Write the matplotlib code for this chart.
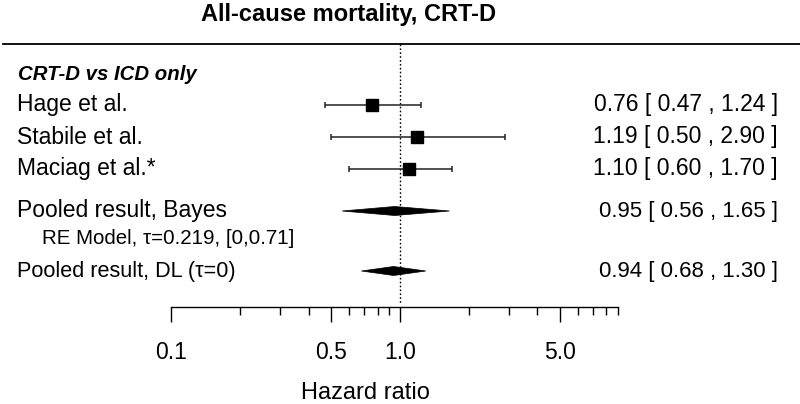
import matplotlib
matplotlib.use("Agg")
import matplotlib.pyplot as plt
import matplotlib.transforms as mtransforms
from matplotlib.lines import Line2D
from matplotlib.patches import Polygon
import numpy as np

plt.rcParams['font.family'] = ['Liberation Sans', 'DejaVu Sans']

# ---- data ----
study_labels = ["Hage et al.", "Stabile et al.", "Maciag et al.*"]
study_est = [0.76, 1.19, 1.10]
study_lo = [0.47, 0.50, 0.60]
study_hi = [1.24, 2.90, 1.70]

pooled_labels = ["Pooled result, Bayes", "Pooled result, DL (\u03c4=0)"]
pooled_est = [0.95, 0.94]
pooled_lo = [0.56, 0.68]
pooled_hi = [1.65, 1.30]

group_label = "CRT-D vs ICD only"
re_note = "RE Model, \u03c4=0.219, [0,0.71]"
title = "All-cause mortality, CRT-D"
xlabel = "Hazard ratio"
major_ticks = [0.1, 0.5, 1.0, 5.0]
major_labels = ["0.1", "0.5", "1.0", "5.0"]
minor_ticks = [0.2, 0.3, 0.4, 0.6, 0.7, 0.8, 0.9, 2, 3, 4, 6, 7, 8, 9]
x_limits = (0.1, 9)

# ---- layout (pixel rows) ----
W, H = 800, 404
study_rows = [105, 137, 169]
pooled_rows = [211, 271]
header_row = 75
note_row = 239
pooled_label_sizes = [16.5, 15.6]

fig = plt.figure(figsize=(W / 100, H / 100), dpi=100)

def fx(px):
    return px / W

def fy(py):
    return 1 - py / H

ax_left, ax_right, ax_top, ax_bottom = 171, 618, 44, 307
ax = fig.add_axes([fx(ax_left), fy(ax_bottom), fx(ax_right - ax_left), (ax_bottom - ax_top) / H])
ax.set_xscale('log')
ax.set_xlim(*x_limits)
ax.set_ylim(ax_bottom, ax_top)
ax.patch.set_alpha(0)
for s in ['left', 'right', 'top']:
    ax.spines[s].set_visible(False)
ax.spines['bottom'].set_linewidth(1.0)
ax.set_yticks([])
ax.set_xticks(major_ticks)
ax.set_xticklabels(major_labels, fontsize=16.5)
ax.set_xticks(minor_ticks, minor=True)
ax.xaxis.set_minor_formatter(matplotlib.ticker.NullFormatter())
ax.tick_params(axis='x', which='major', length=10.8, width=1.0, pad=14, direction='out')
ax.tick_params(axis='x', which='minor', length=5.8, width=1.0, direction='out')

# reference line
ax.plot([1, 1], [ax_top, 303], linestyle=(0, (1.2, 1.6)), color='black', lw=1.0)

# studies
xerr = [np.array(study_est) - np.array(study_lo), np.array(study_hi) - np.array(study_est)]
ax.errorbar(study_est, study_rows, xerr=xerr, fmt='none', ecolor='#222222',
            elinewidth=1.1, capsize=2.0, capthick=1.1)
ax.plot(study_est, study_rows, 's', color='black', markersize=8)

# pooled diamonds
dh = 4.5
for est, lo, hi, r in zip(pooled_est, pooled_lo, pooled_hi, pooled_rows):
    poly = Polygon([[lo, r], [est, r - dh], [hi, r], [est, r + dh]], closed=True,
                   facecolor='black', edgecolor='black', lw=0.5)
    ax.add_patch(poly)

# texts
trans = mtransforms.blended_transform_factory(fig.transFigure, ax.transData)
ax.text(fx(18), header_row, group_label, transform=trans, fontsize=14.7,
        fontweight='bold', fontstyle='italic', va='center', ha='left')
for lab, r in zip(study_labels, study_rows):
    ax.text(fx(17), r, lab, transform=trans, fontsize=16.5, va='center', ha='left')
for lab, r, fs in zip(pooled_labels, pooled_rows, pooled_label_sizes):
    ax.text(fx(17), r, lab, transform=trans, fontsize=fs, va='center', ha='left')
ax.text(fx(42), note_row, re_note, transform=trans, fontsize=14.8, va='center', ha='left')

for e, lo, hi, r in zip(study_est, study_lo, study_hi, study_rows):
    ax.text(fx(778), r, f"{e:.2f} [ {lo:.2f} , {hi:.2f} ]", transform=trans,
            fontsize=16.5, va='center', ha='right')
for e, lo, hi, r in zip(pooled_est, pooled_lo, pooled_hi, pooled_rows):
    ax.text(fx(778), r + 1, f"{e:.2f} [ {lo:.2f} , {hi:.2f} ]", transform=trans,
            fontsize=16, va='center', ha='right')

fig.text(fx(349), fy(14), title, fontsize=17, fontweight='bold', ha='center', va='center')
fig.text(fx(365), fy(393), xlabel, fontsize=17, ha='center', va='center')

fig.add_artist(Line2D([fx(3), fx(800)], [fy(44), fy(44)], color='black', lw=1.3,
                      transform=fig.transFigure))

fig.savefig("out.png", dpi=100)
